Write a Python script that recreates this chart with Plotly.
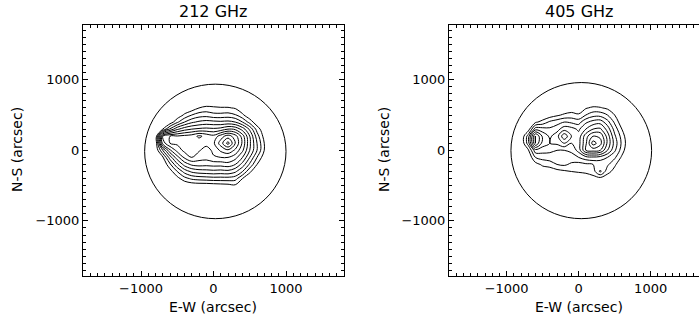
import plotly.graph_objects as go

# grid coordinates (arcsec)
grid_x = [-900, -800, -700, -600, -500, -400, -300, -200, -100, 0, 100, 200, 300, 400, 500, 600, 700, 800]
grid_y = [700, 600, 500, 400, 300, 200, 100, 0, -100, -200, -300, -400, -500, -600]

# 212 GHz brightness map (contour-level units)
map_212 = [
    [0, 0, 0, 0, 0, 0, 0, 0, 0, 0, 0, 0, 0, 0, 0, 0, 0, 0],
    [0, 0, 0, 0, 0, 0, 0.3, 1.0, 1.3, 1.2, 1.1, 1.1, 0.9, 0.2, 0, 0, 0, 0],
    [0, 0, 0, 0, 0.2, 1.2, 2.0, 2.5, 2.6, 2.3, 2.3, 2.4, 2.1, 1.2, 0.2, 0, 0, 0],
    [0, 0, 0, 0.3, 1.8, 3.0, 3.8, 4.2, 4.4, 4.3, 4.2, 4.3, 4.0, 3.0, 1.6, 0.3, 0, 0],
    [0, 0, 1.0, 3.2, 4.8, 5.6, 6.0, 6.2, 6.3, 6.2, 6.4, 7.0, 6.8, 5.6, 3.8, 1.6, 0.2, 0],
    [0, 0, 7.0, 8.0, 8.1, 8.3, 8.5, 9.2, 8.7, 8.3, 9.5, 10.5, 9.5, 7.5, 5.0, 2.5, 0.6, 0],
    [0, 0, 6.5, 8.0, 8.2, 8.5, 8.5, 8.4, 8.3, 8.8, 10.5, 12.4, 10.0, 7.8, 5.2, 3.0, 1.0, 0],
    [0, 0, 3.0, 5.8, 7.4, 8.3, 8.4, 8.1, 7.6, 8.2, 9.2, 9.8, 8.8, 7.2, 5.0, 3.0, 1.0, 0],
    [0, 0, 0.8, 3.5, 5.6, 7.2, 8.0, 7.5, 7.4, 7.9, 8.0, 8.0, 7.4, 6.0, 4.0, 2.0, 0.4, 0],
    [0, 0, 0, 1.8, 3.8, 5.4, 6.2, 6.4, 6.3, 6.4, 6.4, 6.6, 6.0, 4.6, 2.8, 1.0, 0, 0],
    [0, 0, 0, 0.5, 2.0, 3.4, 4.2, 4.5, 4.6, 4.7, 4.6, 4.7, 4.2, 3.0, 1.2, 0.2, 0, 0],
    [0, 0, 0, 0, 0.6, 1.6, 2.2, 2.4, 2.5, 2.6, 2.6, 2.6, 2.4, 1.0, 0.2, 0, 0, 0],
    [0, 0, 0, 0, 0, 0, 0.2, 0.3, 0.3, 0.4, 0.5, 0.6, 0.8, 0.2, 0, 0, 0, 0],
    [0, 0, 0, 0, 0, 0, 0, 0, 0, 0, 0, 0, 0, 0, 0, 0, 0, 0],
]

# 405 GHz brightness map (contour-level units)
map_405 = [
    [0, 0, 0, 0, 0, 0, 0, 0, 0, 0, 0, 0, 0, 0, 0, 0, 0, 0],
    [0, 0, 0, 0, 0, 0, 0, 0, 0.3, 0.5, 0.9, 1.2, 1.1, 0.8, 0.2, 0, 0, 0],
    [0, 0, 0, 0, 0, 0.4, 0.8, 1.2, 1.4, 1.1, 2.0, 2.6, 2.6, 2.0, 1.0, 0, 0, 0],
    [0, 0, 0, 0.8, 1.4, 2.2, 2.6, 3.0, 2.8, 2.6, 3.8, 4.4, 4.6, 3.4, 1.8, 0.3, 0, 0],
    [0, 0, 0.4, 3.6, 3.4, 3.2, 3.6, 4.6, 4.4, 3.8, 5.0, 6.0, 6.2, 4.6, 2.6, 1.0, 0, 0],
    [0, 0, 2.5, 7.2, 4.8, 3.8, 4.6, 6.8, 5.0, 4.4, 6.6, 8.0, 7.8, 5.6, 3.2, 1.6, 0, 0],
    [0, 0, 2.5, 7.0, 4.6, 4.0, 4.2, 5.0, 4.0, 4.6, 6.8, 9.5, 8.4, 5.8, 3.6, 1.8, 0.2, 0],
    [0, 0, 0.8, 3.6, 3.4, 3.2, 3.0, 3.0, 3.2, 4.4, 7.0, 7.4, 7.0, 5.0, 3.2, 1.5, 0, 0],
    [0, 0, 0.1, 2.0, 2.4, 2.6, 2.4, 2.4, 2.6, 3.0, 3.6, 3.8, 3.6, 3.0, 2.2, 0.8, 0, 0],
    [0, 0, 0, 0.6, 1.2, 1.4, 2.0, 2.2, 1.8, 1.6, 1.8, 2.0, 2.2, 2.2, 1.2, 0.2, 0, 0],
    [0, 0, 0, 0, 0.3, 0.4, 0.6, 0.8, 1.0, 1.1, 1.2, 1.5, 3.2, 1.4, 0.6, 0, 0, 0],
    [0, 0, 0, 0, 0, 0, 0, 0, 0, 0.3, 0.4, 0.6, 0.6, 0.3, 0, 0, 0, 0],
    [0, 0, 0, 0, 0, 0, 0, 0, 0, 0, 0, 0, 0, 0, 0, 0, 0, 0],
    [0, 0, 0, 0, 0, 0, 0, 0, 0, 0, 0, 0, 0, 0, 0, 0, 0, 0],
]

panel_titles = ["212 GHz", "405 GHz"]
levels_212 = (1, 12, 1)
levels_405 = (1, 9, 1)
# solar limb extents (arcsec): x0, x1, y0, y1
limb_212 = (-950, 1000, -968, 937)
limb_405 = (-940, 1013, -968, 960)
tick_vals = [-1000, 0, 1000]
tick_text = ["\u22121000", "0", "1000"]
x_title = "E-W (arcsec)"
y_title = "N-S (arcsec)"

FONT = "DejaVu Sans"
W, H = 699, 320

fig = go.Figure()

def add_contour(z, lv, xa, ya):
    fig.add_trace(go.Contour(
        x=grid_x, y=grid_y, z=z, xaxis=xa, yaxis=ya,
        contours=dict(start=lv[0], end=lv[1], size=lv[2], coloring="lines"),
        colorscale=[[0, "black"], [1, "black"]],
        line=dict(color="black", width=1, smoothing=1.0),
        showscale=False, hoverinfo="skip",
    ))

add_contour(map_212, levels_212, "x", "y")
add_contour(map_405, levels_405, "x2", "y2")

for (x0, x1, y0, y1), xr, yr in [(limb_212, "x", "y"), (limb_405, "x2", "y2")]:
    fig.add_shape(type="circle", xref=xr, yref=yr, x0=x0, x1=x1, y0=y0, y1=y1,
                  line=dict(color="black", width=1))

ydom = [(H - 276) / H, (H - 25) / H]

def axis_common():
    return dict(
        showgrid=False, zeroline=False, showline=True, linecolor="black", linewidth=1,
        ticks="inside", ticklen=5, tickwidth=1, tickcolor="black",
        tickvals=tick_vals, ticktext=tick_text,
        minor=dict(ticks="inside", ticklen=3, tickwidth=1, tickcolor="black", dtick=100, tick0=0, showgrid=False),
        tickfont=dict(family=FONT, size=13, color="black"),
    )

xa1 = axis_common(); xa1.update(domain=[83 / W, 344 / W], range=[-1800, 1800], mirror="allticks", anchor="y")
ya1 = axis_common(); ya1.update(domain=ydom, range=[-1780, 1775], mirror="allticks", anchor="x")
xa2 = axis_common(); xa2.update(domain=[449 / W, 1.0], range=[-1800, 1671], mirror="allticks", anchor="y2")
ya2 = axis_common(); ya2.update(domain=ydom, range=[-1780, 1775], mirror=False, anchor="x2")

def ann(text, xpx, ypx, size, angle=0):
    return dict(text=text, x=xpx / W, y=1 - ypx / H, xref="paper", yref="paper", textangle=angle,
                showarrow=False, font=dict(family=FONT, size=size, color="black"),
                xanchor="center", yanchor="middle")

fig.update_layout(
    width=W, height=H,
    margin=dict(l=0, r=0, t=0, b=0),
    paper_bgcolor="white", plot_bgcolor="white",
    showlegend=False,
    xaxis=xa1, yaxis=ya1, xaxis2=xa2, yaxis2=ya2,
    annotations=[
        ann(panel_titles[0], 213.5, 12, 16),
        ann(panel_titles[1], 578.7, 12, 16),
        ann(x_title, 213.5, 307, 14),
        ann(x_title, 578.7, 307, 14),
        ann(y_title, 17, 150, 14, -90),
        ann(y_title, 384, 150, 14, -90),
    ],
)

fig.write_html("out.html", config={"displayModeBar": False},
               post_script="document.body.style.margin='0';document.body.style.padding='0';")
